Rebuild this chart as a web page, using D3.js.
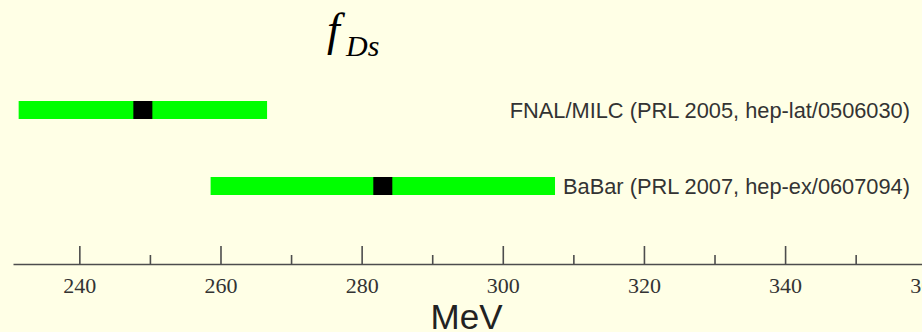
<!DOCTYPE html>
<html>
<head>
<meta charset="utf-8">
<script src="https://cdn.jsdelivr.net/npm/d3@7"></script>
<style>
  html, body { margin: 0; padding: 0; background: #ffffe6; }
  svg { display: block; }
</style>
</head>
<body>
<script>
// f_Ds determinations (MeV): central value and interval ends
const sources = ["FNAL/MILC (PRL 2005, hep-lat/0506030)", "BaBar (PRL 2007, hep-ex/0607094)"];
const central = [249.0, 283.0];
const lower = [231.4, 258.6];
const upper = [266.6, 307.4];
const majorTicks = [240, 260, 280, 300, 320, 340, 360];
const minorTicks = [250, 270, 290, 310, 330, 350];
const axisSpan = [230.6, 359.4];
const unitLabel = "MeV";

const W = 922, H = 332;
const svg = d3.select("body").append("svg").attr("width", W).attr("height", H);
svg.append("rect").attr("width", W).attr("height", H).attr("fill", "#ffffe6");

const x = d3.scaleLinear().domain(axisSpan).range([13, 922]);
const y = d3.scalePoint().domain(sources).range([110, 186]);
const barH = 18, markW = 19;

// title: f with subscript Ds
svg.append("text").attr("x", 327).attr("y", 45)
  .attr("font-family", "'Liberation Serif', 'Times New Roman', serif")
  .attr("font-style", "italic").attr("font-size", 46).attr("fill", "#000")
  .text("f");
svg.append("text").attr("x", 346).attr("y", 56)
  .attr("font-family", "'Liberation Serif', 'Times New Roman', serif")
  .attr("font-style", "italic").attr("font-size", 30).attr("fill", "#000")
  .text("Ds");

// interval bars
const rows = sources.map((s, i) => ({ s, c: central[i], lo: lower[i], hi: upper[i] }));
svg.selectAll("rect.bar").data(rows).join("rect").attr("class", "bar")
  .attr("x", d => x(d.lo)).attr("width", d => x(d.hi) - x(d.lo))
  .attr("y", d => y(d.s) - barH / 2).attr("height", barH)
  .attr("fill", "#00ff00");

// central values
svg.selectAll("rect.mark").data(rows).join("rect").attr("class", "mark")
  .attr("x", d => x(d.c) - markW / 2).attr("width", markW)
  .attr("y", d => y(d.s) - barH / 2).attr("height", barH)
  .attr("fill", "#000");

// source labels
svg.selectAll("text.src").data(rows).join("text").attr("class", "src")
  .attr("x", 910).attr("y", d => y(d.s) + 8)
  .attr("text-anchor", "end")
  .attr("font-family", "'Liberation Sans', Arial, sans-serif")
  .attr("font-size", 21.8).attr("fill", "#333")
  .text(d => d.s);

// axis: major ticks with labels, minor ticks without
const axisY = 264;
const gMajor = svg.append("g").attr("transform", `translate(0,${axisY})`)
  .call(d3.axisBottom(x).tickValues(majorTicks).tickFormat(d3.format("d"))
    .tickSizeInner(-18).tickSizeOuter(0).tickPadding(13.5));
gMajor.select(".domain").attr("stroke", "#4d4d4d").attr("stroke-width", 1.7);
gMajor.selectAll(".tick line").attr("stroke", "#4d4d4d").attr("stroke-width", 1.6);
gMajor.selectAll(".tick text")
  .attr("font-family", "'Liberation Serif', 'Times New Roman', serif")
  .attr("font-size", 22).attr("fill", "#333");

const gMinor = svg.append("g").attr("transform", `translate(0,${axisY})`)
  .call(d3.axisBottom(x).tickValues(minorTicks).tickFormat("")
    .tickSizeInner(-9).tickSizeOuter(0));
gMinor.select(".domain").remove();
gMinor.selectAll(".tick line").attr("stroke", "#4d4d4d").attr("stroke-width", 1.6);

// unit
svg.append("text").attr("x", 466.5).attr("y", 329)
  .attr("text-anchor", "middle")
  .attr("font-family", "'Liberation Sans', Arial, sans-serif")
  .attr("font-size", 35).attr("fill", "#222")
  .text(unitLabel);
</script>
</body>
</html>
